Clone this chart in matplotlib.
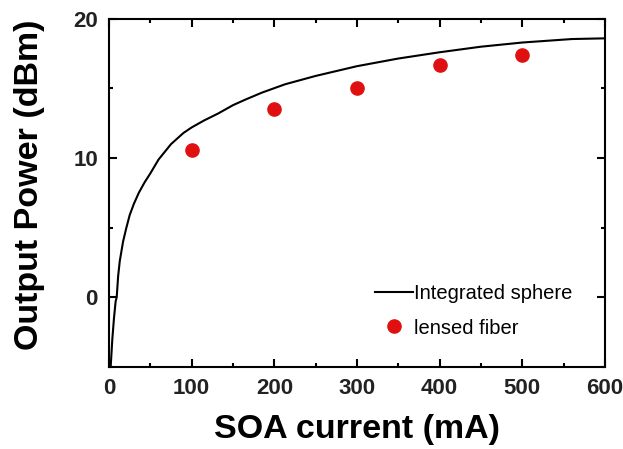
import matplotlib
matplotlib.use("Agg")
import matplotlib.pyplot as plt
from matplotlib.ticker import MultipleLocator

# Integrated-sphere measurement (continuous sweep)
sphere_current = [2, 4, 6, 8, 9.3, 11, 13, 17, 21, 25, 30, 36, 43, 50, 60, 75,
                  90, 100, 115, 132, 150, 165, 185, 213, 250, 300, 350, 400,
                  450, 500, 560, 600]
sphere_power = [-5.0, -3.0, -1.5, -0.3, 0.0, 1.5, 2.6, 4.0, 5.0, 5.9, 6.7, 7.5,
                8.25, 8.9, 9.9, 11.0, 11.8, 12.2, 12.7, 13.2, 13.8, 14.2, 14.7,
                15.3, 15.9, 16.6, 17.15, 17.6, 18.0, 18.3, 18.55, 18.6]

# Lensed-fiber coupled power
fiber_current = [100, 200, 300, 400, 500]
fiber_power = [10.6, 13.5, 15.05, 16.7, 17.37]

x_ticks = [0, 100, 200, 300, 400, 500, 600]
y_ticks = [0, 10, 20]

plt.rcParams["font.family"] = ["Liberation Sans", "DejaVu Sans"]

fig = plt.figure(figsize=(6.23, 4.49), dpi=100)
ax = fig.add_axes([0.175, 0.183, 0.796, 0.775])

ax.plot(sphere_current, sphere_power, color="black", lw=1.5,
        label="Integrated sphere")
ax.plot(fiber_current, fiber_power, ls="none", marker="o", ms=9.5,
        color="#e01010", label="lensed fiber")

ax.set_xlim(0, 600)
ax.set_ylim(-5, 20)
ax.set_xticks(x_ticks)
ax.set_yticks(y_ticks)
ax.xaxis.set_minor_locator(MultipleLocator(50))
ax.yaxis.set_minor_locator(MultipleLocator(5))
ax.tick_params(which="both", direction="in", top=True, right=True,
               width=1.5, labelsize=16, pad=8, colors="black")
ax.tick_params(which="major", length=6)
ax.tick_params(which="minor", length=3)
for lbl in ax.get_xticklabels() + ax.get_yticklabels():
    lbl.set_fontweight("bold")
    lbl.set_color("#222222")
for sp in ax.spines.values():
    sp.set_linewidth(1.5)

ax.set_xlabel("SOA current (mA)", fontsize=24.5, fontweight="bold", labelpad=11)
ax.set_ylabel("Output Power (dBm)", fontsize=24.5, fontweight="bold")
ax.yaxis.set_label_coords(-0.129, 0.523)

leg = ax.legend(loc="upper left", bbox_to_anchor=(0.52, 0.26), frameon=False,
                fontsize=14.5, handlelength=1.9, handletextpad=0.05,
                labelspacing=0.75, borderaxespad=0)

fig.savefig("out.png", dpi=100)
